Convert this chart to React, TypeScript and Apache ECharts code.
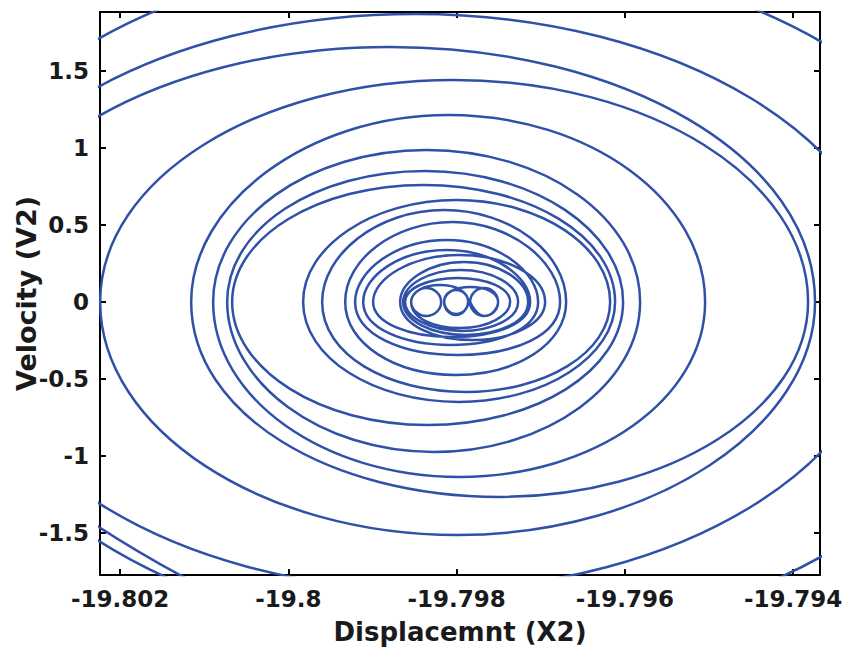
import React, { useEffect, useRef } from "react";
import * as echarts from "echarts";

const displacementX2 = [
  -19.797958,
  -19.804425, -19.797958, -19.791492, -19.797816,
  -19.80414, -19.798493, -19.792847, -19.798345,
  -19.803843, -19.798791, -19.793739, -19.797988,
  -19.802238, -19.79803, -19.793822, -19.797489,
  -19.801156, -19.798101, -19.795046, -19.79797,
  -19.800895, -19.798357, -19.795819, -19.798273,
  -19.800728, -19.798374, -19.796021, -19.798345,
  -19.800669, -19.798392, -19.796116, -19.79797,
  -19.799825, -19.798, -19.796175, -19.797887,
  -19.799599, -19.798149, -19.796698, -19.798012,
  -19.799325, -19.798048, -19.79677, -19.797988,
  -19.799207, -19.798119, -19.797031, -19.798071,
  -19.799111, -19.798119, -19.797126, -19.798059,
  -19.798993, -19.79797, -19.796948, -19.79781,
  -19.798672, -19.797911, -19.79715, -19.797893,
  -19.798636, -19.797952, -19.797269, -19.797941,
  -19.798612, -19.797988, -19.797364, -19.797952,
  -19.798541, -19.798363, -19.798184, -19.798363,
  -19.798541, -19.798196, -19.797863, -19.798006,
  -19.798149, -19.798006, -19.797863, -19.798006,
  -19.798149, -19.79784, -19.797507, -19.797673,
  -19.79784, -19.797673, -19.797507, -19.797673,
  -19.79784,
];
const velocityV2 = [
  -2.584,
  0, 2.266, 0, -2.195,
  0, 1.87, 0, -1.87,
  0, 1.656, 0, -1.513,
  0, 1.442, 0, -1.266,
  0, 1.214, 0, -1.136,
  0, 0.987, 0, -0.974,
  0, 0.851, 0, -0.799,
  0, 0.76, 0, -0.649,
  0, 0.662, 0, -0.584,
  0, 0.597, 0, -0.474,
  0, 0.519, 0, -0.344,
  0, 0.403, 0, -0.279,
  0, 0.338, 0, -0.227,
  0, 0.305, 0, -0.247,
  0, 0.26, 0, -0.214,
  0, 0.208, 0, -0.188,
  0, 0.156, 0, -0.169,
  0, 0.091, 0, -0.091,
  0, 0.11, 0, -0.084,
  0, 0.078, 0, -0.078,
  0, 0.097, 0, -0.091,
  0, 0.091, 0, -0.091,
  0,
];
const xTicks = [-19.802, -19.8, -19.798, -19.796, -19.794];
const yTicks = [-1.5, -1, -0.5, 0, 0.5, 1, 1.5];
const xRange = [-19.80224, -19.79368];
const yRange = [-1.773, 1.883];

export default function App() {
  const ref = useRef<HTMLDivElement>(null);
  useEffect(() => {
    if (!ref.current) return;
    const chart = echarts.init(ref.current, null, { renderer: "svg" });
    const font = "DejaVu Sans";
    const axisLine = { show: true, onZero: false, lineStyle: { color: "#000", width: 2 } };
    const tick = (vals: number[]) => ({
      show: true,
      inside: true,
      length: 6,
      customValues: vals,
      lineStyle: { color: "#000", width: 2 },
    });
    const data = displacementX2.map((x, i) => [x, velocityV2[i]]);
    chart.setOption({
      animation: false,
      backgroundColor: "#fff",
      grid: { left: 100, right: 22, top: 12, bottom: 75, containLabel: false, outerBoundsMode: "none" },
      xAxis: [
        {
          type: "value",
          position: "bottom",
          min: xRange[0],
          max: xRange[1],
          axisLine,
          axisTick: tick(xTicks),
          axisLabel: {
            customValues: xTicks,
            formatter: (v: number) => String(+v.toFixed(3)),
            color: "#1a1a1a",
            fontFamily: font,
            fontWeight: "bold",
            fontSize: 23,
            margin: 12,
          },
          splitLine: { show: false },
          name: "Displacemnt (X2)",
          nameLocation: "middle",
          nameGap: 44,
          nameTextStyle: { color: "#1a1a1a", fontFamily: font, fontWeight: "bold", fontSize: 26 },
        },
        {
          type: "value",
          position: "top",
          min: xRange[0],
          max: xRange[1],
          axisLine,
          axisTick: tick(xTicks),
          axisLabel: { show: false },
          splitLine: { show: false },
        },
      ],
      yAxis: [
        {
          type: "value",
          position: "left",
          min: yRange[0],
          max: yRange[1],
          axisLine,
          axisTick: tick(yTicks),
          axisLabel: {
            customValues: yTicks,
            formatter: (v: number) => String(+v.toFixed(2)),
            color: "#1a1a1a",
            fontFamily: font,
            fontWeight: "bold",
            fontSize: 23,
            margin: 11,
          },
          splitLine: { show: false },
          name: "Velocity (V2)",
          nameLocation: "middle",
          nameGap: 60,
          nameMoveOverlap: false,
          nameTextStyle: { color: "#1a1a1a", fontFamily: font, fontWeight: "bold", fontSize: 27 },
        },
        {
          type: "value",
          position: "right",
          min: yRange[0],
          max: yRange[1],
          axisLine,
          axisTick: tick(yTicks),
          axisLabel: { show: false },
          splitLine: { show: false },
        },
      ],
      series: [
        {
          type: "line",
          xAxisIndex: 0,
          yAxisIndex: 0,
          data,
          smooth: 0.55,
          showSymbol: false,
          symbol: "none",
          clip: true,
          lineStyle: { color: "#3051A8", width: 2.5 },
        },
      ],
    });
    return () => chart.dispose();
  }, []);
  return <div ref={ref} style={{ position: "fixed", left: 0, top: 0, width: 842, height: 650 }} />;
}
